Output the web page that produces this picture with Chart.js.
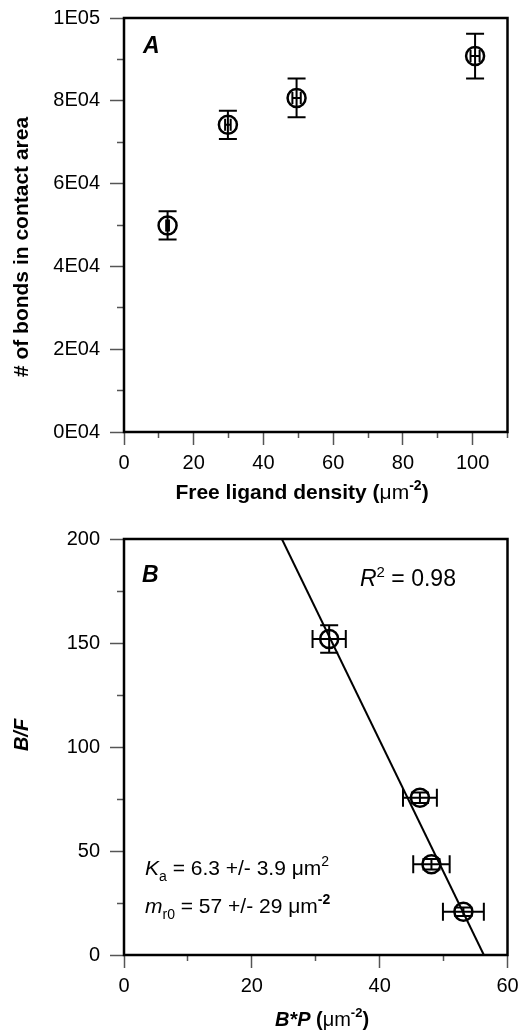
<!DOCTYPE html>
<html lang="en">
<head>
<meta charset="UTF-8">
<title>Bonds in contact area and Scatchard plot</title>
<script src="https://cdn.jsdelivr.net/npm/chart.js"></script>
<style>
  body { margin: 0; background: #fff; }
  canvas { position: absolute; left: 0; }
  #panelA { top: 0; }
  #panelB { top: 505px; }
</style>
</head>
<body>
<canvas id="panelA" width="519" height="505"></canvas>
<canvas id="panelB" width="519" height="525"></canvas>
<script>
  // panel A: bonds in contact area vs free ligand density
  const ligandDensity = [12.5, 29.8, 49.5, 100.7];
  const ligandErr = [0.4, 0.8, 1.2, 1.3];
  const bondCount = [49900, 74200, 80700, 90800];
  const bondErr = [3400, 3400, 4700, 5400];
  const yTickLabelsA = ['0E04', '2E04', '4E04', '6E04', '8E04', '1E05'];

  // panel B: B/F vs B*P with linear fit
  const bpValues = [32.1, 46.3, 48.1, 53.1];
  const bpErr = [2.6, 2.65, 2.85, 3.2];
  const bfValues = [151.9, 75.6, 43.6, 20.8];
  const bfErr = [6.6, 2.5, 2.5, 2.0];
  const fitX = [24.7, 56.3];
  const fitY = [200, 0];

  const FAM = '"Liberation Sans", Arial, sans-serif';

  function drawRich(ctx, segs, x, y, align, angle) {
    ctx.save();
    ctx.translate(x, y);
    if (angle) ctx.rotate(angle);
    ctx.textBaseline = 'alphabetic';
    ctx.textAlign = 'left';
    ctx.fillStyle = '#000';
    let total = 0;
    segs.forEach(s => { ctx.font = s.font; s.w = ctx.measureText(s.text).width; total += s.w; });
    let cx = align === 'center' ? -total / 2 : 0;
    segs.forEach(s => { ctx.font = s.font; ctx.fillText(s.text, cx, s.dy || 0); cx += s.w; });
    ctx.restore();
  }

  // error bars, frame and text labels
  const extras = {
    id: 'extras',
    afterDatasetsDraw(chart, args, opts) {
      const ctx = chart.ctx;
      const xs = chart.scales.x, ys = chart.scales.y;
      ctx.save();
      ctx.strokeStyle = '#000';
      ctx.lineWidth = 2;
      opts.xv.forEach((xv, i) => {
        const px = xs.getPixelForValue(xv), py = ys.getPixelForValue(opts.yv[i]);
        const y1 = ys.getPixelForValue(opts.yv[i] - opts.ye[i]);
        const y2 = ys.getPixelForValue(opts.yv[i] + opts.ye[i]);
        const x1 = xs.getPixelForValue(xv - opts.xe[i]);
        const x2 = xs.getPixelForValue(xv + opts.xe[i]);
        const c = opts.cap, cx = opts.xcap;
        ctx.beginPath();
        ctx.moveTo(px, y1); ctx.lineTo(px, y2);
        ctx.moveTo(px - c, y1); ctx.lineTo(px + c, y1);
        ctx.moveTo(px - c, y2); ctx.lineTo(px + c, y2);
        ctx.moveTo(x1, py); ctx.lineTo(x2, py);
        ctx.moveTo(x1, py - cx); ctx.lineTo(x1, py + cx);
        ctx.moveTo(x2, py - cx); ctx.lineTo(x2, py + cx);
        ctx.stroke();
      });
      const a = chart.chartArea;
      ctx.lineWidth = 2.5;
      ctx.strokeRect(a.left, a.top, a.right - a.left, a.bottom - a.top);
      ctx.restore();
      opts.texts.forEach(t => drawRich(ctx, t.segs, t.x, t.y, t.align, t.angle));
    }
  };

  function axisOpts(min, max, step, majorStep, labelFn, tickLen, isY) {
    return {
      type: 'linear', min: min, max: max,
      afterFit(s) {
        if (isY) s.width = 124; else s.height = s.chart.canvas.height - (s.chart.canvas.id === 'panelA' ? 432 : 450);
        s.paddingLeft = 0; s.paddingRight = 0; s.paddingTop = 0; s.paddingBottom = 0;
      },
      border: { display: false },
      grid: {
        drawOnChartArea: false,
        tickLength: tickLen,
        tickWidth: 1.5,
        tickColor: '#555',
        tickBorderDash: (c) => {
          const v = c.tick ? c.tick.value : 0;
          if (Math.abs(v / majorStep - Math.round(v / majorStep)) < 1e-6) return [];
          return isY ? [0, 7, 8, 100] : [6, 100];
        }
      },
      ticks: {
        stepSize: step, autoSkip: false, maxRotation: 0,
        padding: isY ? 10 : 6,
        color: '#000',
        font: { family: FAM, size: 20 },
        callback: labelFn
      }
    };
  }

  const sup = (t, f) => ({ text: t, font: f, dy: -9 });
  const sub = (t, f) => ({ text: t, font: f, dy: 6 });

  new Chart(document.getElementById('panelA'), {
    type: 'scatter',
    data: {
      datasets: [{
        data: ligandDensity.map((x, i) => ({ x: x, y: bondCount[i] })),
        pointRadius: 9, pointBorderWidth: 2.5,
        pointBackgroundColor: 'rgba(0,0,0,0)', pointBorderColor: '#000'
      }]
    },
    options: {
      responsive: false, animation: false, events: [],
      layout: { padding: { top: 18, right: 10, left: 0, bottom: 0 } },
      plugins: {
        legend: { display: false }, tooltip: { enabled: false },
        extras: {
          xv: ligandDensity, xe: ligandErr, yv: bondCount, ye: bondErr, cap: 9, xcap: 6,
          texts: [
            { x: 143, y: 53, segs: [{ text: 'A', font: 'italic bold 23px ' + FAM }] },
            { x: 302, y: 499, align: 'center', segs: [
              { text: 'Free ligand density (', font: 'bold 21px ' + FAM },
              { text: 'μm', font: '21px ' + FAM },
              sup('-2', 'bold 14px ' + FAM),
              { text: ')', font: 'bold 21px ' + FAM }] },
            { x: 28, y: 247, align: 'center', angle: -Math.PI / 2, segs: [
              { text: '# of bonds in contact area', font: 'bold 21px ' + FAM }] }
          ]
        }
      },
      scales: {
        x: axisOpts(0, 110, 10, 20, (v) => (v % 20 === 0 ? String(v) : ''), 13, false),
        y: axisOpts(0, 100000, 10000, 20000, (v) => (v % 20000 === 0 ? yTickLabelsA[v / 20000] : ''), 14, true)
      }
    },
    plugins: [extras]
  });

  new Chart(document.getElementById('panelB'), {
    type: 'scatter',
    data: {
      datasets: [{
        data: bpValues.map((x, i) => ({ x: x, y: bfValues[i] })),
        pointRadius: 9, pointBorderWidth: 2.5,
        pointBackgroundColor: 'rgba(0,0,0,0)', pointBorderColor: '#000'
      }, {
        data: fitX.map((x, i) => ({ x: x, y: fitY[i] })),
        showLine: true, pointRadius: 0, borderWidth: 2, borderColor: '#000'
      }]
    },
    options: {
      responsive: false, animation: false, events: [],
      layout: { padding: { top: 34, right: 10, left: 0, bottom: 0 } },
      plugins: {
        legend: { display: false }, tooltip: { enabled: false },
        extras: {
          xv: bpValues, xe: bpErr, yv: bfValues, ye: bfErr, cap: 9, xcap: 9,
          texts: [
            { x: 142, y: 77, segs: [{ text: 'B', font: 'italic bold 23px ' + FAM }] },
            { x: 360, y: 81, segs: [
              { text: 'R', font: 'italic 23px ' + FAM },
              sup('2', '15px ' + FAM),
              { text: ' = 0.98', font: '23px ' + FAM }] },
            { x: 145, y: 370, segs: [
              { text: 'K', font: 'italic 21px ' + FAM },
              sub('a', '14px ' + FAM),
              { text: ' = 6.3 +/- 3.9 μm', font: '21px ' + FAM },
              sup('2', '14px ' + FAM)] },
            { x: 145, y: 408, segs: [
              { text: 'm', font: 'italic 21px ' + FAM },
              sub('r0', '14px ' + FAM),
              { text: ' = 57 +/- 29 μm', font: '21px ' + FAM },
              sup('-2', 'bold 14px ' + FAM)] },
            { x: 322, y: 521, align: 'center', segs: [
              { text: 'B*P', font: 'italic bold 20px ' + FAM },
              { text: ' (', font: 'bold 20px ' + FAM },
              { text: 'μm', font: '20px ' + FAM },
              sup('-2', 'bold 13px ' + FAM),
              { text: ')', font: 'bold 20px ' + FAM }] },
            { x: 28, y: 230, align: 'center', angle: -Math.PI / 2, segs: [
              { text: 'B/F', font: 'italic bold 20px ' + FAM }] }
          ]
        }
      },
      scales: {
        x: axisOpts(0, 60, 10, 20, (v) => (v % 20 === 0 ? String(v) : ''), 13, false),
        y: axisOpts(0, 200, 25, 50, (v) => (v % 50 === 0 ? String(v) : ''), 14, true)
      }
    },
    plugins: [extras]
  });
</script>
</body>
</html>
